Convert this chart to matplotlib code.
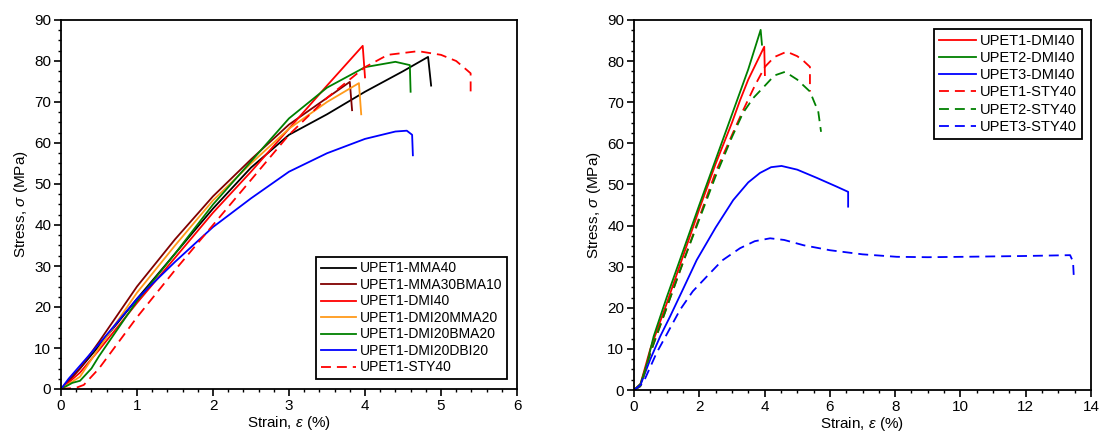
import matplotlib
matplotlib.use("Agg")
import matplotlib.pyplot as plt
from matplotlib.ticker import MultipleLocator

plt.rcParams['font.family'] = ['Liberation Sans', 'DejaVu Sans']
plt.rcParams['mathtext.fontset'] = 'custom'
plt.rcParams['mathtext.it'] = 'Liberation Sans:italic'
plt.rcParams['mathtext.rm'] = 'Liberation Sans'

# ---------------- Left panel data ----------------
mma40_x = [0, 0.25, 0.5, 1, 1.5, 2, 2.5, 3, 3.5, 4, 4.5, 4.83, 4.87]
mma40_y = [0, 5, 10.5, 22, 33, 44, 54, 62, 67, 72.5, 77.5, 81, 74]

mma30bma10_x = [0, 0.25, 0.5, 1, 1.5, 2, 2.5, 3, 3.5, 3.8, 3.83]
mma30bma10_y = [0, 5, 11.5, 25, 36.5, 47, 56, 64.5, 71, 74.9, 68]

dmi40_x = [0, 0.25, 0.5, 1, 1.5, 2, 2.5, 3, 3.5, 3.97, 4.0]
dmi40_y = [0, 4, 9.5, 21, 32, 43, 53, 63.5, 74, 83.7, 76]

dmi20mma20_x = [0, 0.25, 0.5, 1, 1.5, 2, 2.5, 3, 3.5, 3.92, 3.95]
dmi20mma20_y = [0, 3, 10, 23.5, 35, 46, 55, 63.5, 70, 74.6, 67]

dmi20bma20_x = [0, 0.15, 0.25, 0.4, 0.5, 1, 1.5, 2, 2.5, 3, 3.5, 4, 4.4, 4.59, 4.6]
dmi20bma20_y = [0, 1.5, 2, 5, 8, 21.5, 33, 45, 55.5, 66, 73.5, 78.5, 79.8, 79, 72.5]

dmi20dbi20_x = [0, 0.1, 0.5, 1, 1.5, 2, 2.5, 3, 3.5, 4, 4.4, 4.55, 4.62, 4.63]
dmi20dbi20_y = [0, 2.5, 11, 22, 31, 39.5, 46.5, 53, 57.5, 61, 62.8, 63, 62, 57]

sty40_x = [0, 0.2, 0.3, 0.5, 1, 1.5, 2, 2.5, 3, 3.5, 4, 4.3, 4.7, 5.0, 5.2, 5.34, 5.39, 5.39]
sty40_y = [0, 0.3, 1, 5, 17.5, 29, 40, 51, 62, 71, 78.5, 81.5, 82.4, 81.5, 80, 77.8, 77, 72.5]

left_labels = ['UPET1-MMA40', 'UPET1-MMA30BMA10', 'UPET1-DMI40', 'UPET1-DMI20MMA20',
               'UPET1-DMI20BMA20', 'UPET1-DMI20DBI20', 'UPET1-STY40']

# ---------------- Right panel data ----------------
u1_dmi_x = [0, 0.2, 0.5, 1, 2, 2.5, 3, 3.25, 3.5, 3.99, 4.01]
u1_dmi_y = [0, 1.5, 10, 21, 44, 55, 65, 70.5, 75.5, 83.5, 76.6]

u2_dmi_x = [0, 0.2, 0.4, 0.6, 1, 2, 3, 3.5, 3.88, 3.92]
u2_dmi_y = [0, 1.5, 6.5, 13, 22.5, 45, 67, 78, 87.6, 84]

u3_dmi_x = [0, 0.18, 0.49, 0.8, 1.1, 1.5, 1.92, 2.5, 3.04, 3.5, 3.86, 4.2, 4.52, 5, 5.6, 6.2, 6.56, 6.56]
u3_dmi_y = [0, 0.8, 7.3, 13, 17.8, 24.5, 31.6, 39.5, 46.2, 50.5, 52.8, 54.2, 54.5, 53.6, 51.6, 49.5, 48.2, 44.6]

u1_sty_x = [0, 0.2, 0.5, 1, 1.5, 2, 2.5, 3, 3.34, 3.7, 4.01, 4.3, 4.68, 5.0, 5.2, 5.39, 5.39]
u1_sty_y = [0, 1, 9, 20, 31, 42, 53, 62, 68, 74, 78.6, 81, 82.3, 81.2, 80, 78.6, 72.6]

u2_sty_x = [0, 0.2, 0.5, 1, 1.5, 2, 2.5, 3, 3.34, 3.65, 3.95, 4.3, 4.63, 5.0, 5.39, 5.55, 5.64, 5.73]
u2_sty_y = [0, 1, 9, 20, 31, 41.5, 52, 61.5, 67.4, 71, 73.5, 76.5, 77.4, 75.5, 72.6, 69.5, 68, 62.8]

u3_sty_x = [0, 0.28, 0.69, 1.0, 1.41, 1.8, 2.23, 2.7, 3.25, 3.7, 4.17, 4.6, 5.2, 6.0, 7, 8.05, 9, 10.1, 12, 13.36, 13.45, 13.47]
u3_sty_y = [0, 1.7, 9, 13.5, 19.5, 24, 27.6, 31.5, 34.5, 36.2, 36.9, 36.5, 35.2, 34, 33, 32.4, 32.3, 32.4, 32.6, 32.8, 31.2, 28]

right_labels = ['UPET1-DMI40', 'UPET2-DMI40', 'UPET3-DMI40',
                'UPET1-STY40', 'UPET2-STY40', 'UPET3-STY40']

BLACK = '#000000'
BROWN = '#800000'
RED = '#ff0000'
ORANGE = '#ff9a1a'
GREEN = '#008000'
BLUE = '#0000ff'

LW = 1.3
DASH = (5.5, 3.3)

fig = plt.figure(figsize=(11.01, 4.34), dpi=100)
W, H = 1101, 434
axL = fig.add_axes([61 / W, (H - 389) / H, 456 / W, 369 / H])
axR = fig.add_axes([634 / W, (H - 390) / H, 457 / W, 370 / H])

axL.plot(mma40_x, mma40_y, color=BLACK, lw=LW, label=left_labels[0])
axL.plot(mma30bma10_x, mma30bma10_y, color=BROWN, lw=LW, label=left_labels[1])
axL.plot(dmi40_x, dmi40_y, color=RED, lw=LW, label=left_labels[2])
axL.plot(dmi20mma20_x, dmi20mma20_y, color=ORANGE, lw=LW, label=left_labels[3])
axL.plot(dmi20bma20_x, dmi20bma20_y, color=GREEN, lw=LW, label=left_labels[4])
axL.plot(dmi20dbi20_x, dmi20dbi20_y, color=BLUE, lw=LW, label=left_labels[5])
axL.plot(sty40_x, sty40_y, color=RED, lw=LW, dashes=DASH, label=left_labels[6])

axR.plot(u1_dmi_x, u1_dmi_y, color=RED, lw=LW, label=right_labels[0])
axR.plot(u2_dmi_x, u2_dmi_y, color=GREEN, lw=LW, label=right_labels[1])
axR.plot(u3_dmi_x, u3_dmi_y, color=BLUE, lw=LW, label=right_labels[2])
axR.plot(u1_sty_x, u1_sty_y, color=RED, lw=LW, dashes=DASH, label=right_labels[3])
axR.plot(u2_sty_x, u2_sty_y, color=GREEN, lw=LW, dashes=DASH, label=right_labels[4])
axR.plot(u3_sty_x, u3_sty_y, color=BLUE, lw=LW, dashes=DASH, label=right_labels[5])

for ax, xmax, xmaj, xmin in [(axL, 6, 1, 0.2), (axR, 14, 2, 0.5)]:
    ax.set_xlim(0, xmax)
    ax.set_ylim(0, 90)
    ax.xaxis.set_major_locator(MultipleLocator(xmaj))
    ax.xaxis.set_minor_locator(MultipleLocator(xmin))
    ax.yaxis.set_major_locator(MultipleLocator(10))
    ax.yaxis.set_minor_locator(MultipleLocator(2.5))
    ax.tick_params(which='major', direction='out', length=5, width=1.2, labelsize=11, pad=2)
    ax.tick_params(which='minor', direction='out', length=2.5, width=1.0)
    for s in ax.spines.values():
        s.set_linewidth(1.3)
    ax.set_xlabel(r'Strain, $\varepsilon$ (%)', fontsize=11, labelpad=1)
    ax.set_ylabel(r'Stress, $\sigma$ (MPa)', fontsize=11, labelpad=3)

legL = axL.legend(loc='lower right', fontsize=10, frameon=True, fancybox=False,
                  edgecolor='black', framealpha=1, handlelength=2.5, labelspacing=0.18,
                  borderaxespad=0.7, handletextpad=0.3, borderpad=0.35)
legL.get_frame().set_linewidth(1.3)
legR = axR.legend(loc='upper right', fontsize=10.5, frameon=True, fancybox=False,
                  edgecolor='black', framealpha=1, handlelength=2.5, labelspacing=0.22,
                  borderaxespad=0.6, handletextpad=0.3, borderpad=0.35)
legR.get_frame().set_linewidth(1.3)

fig.savefig('out.png', dpi=100)
